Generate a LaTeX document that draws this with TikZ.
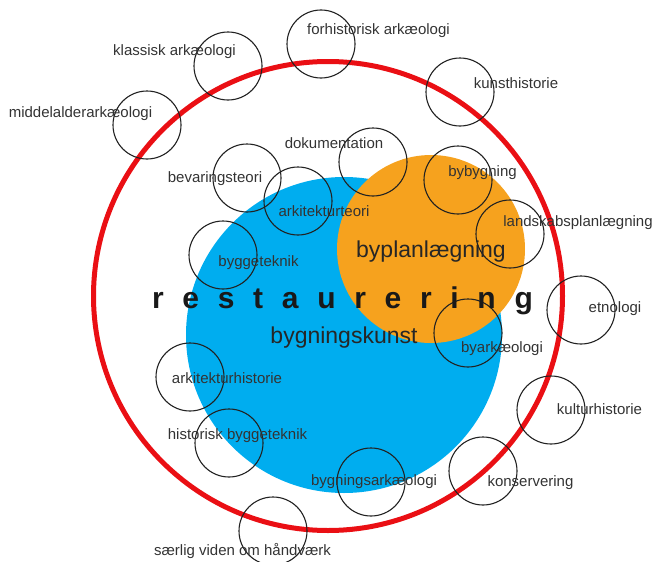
\documentclass[tikz,border=0pt]{standalone}
\usepackage{fontspec}
\setmainfont{Liberation Sans}
\definecolor{ringred}{HTML}{EA0F14}
\definecolor{bigblue}{HTML}{00ADEF}
\definecolor{bigorange}{HTML}{F6A21E}
\definecolor{txtgray}{HTML}{333333}
\definecolor{ringgray}{HTML}{222222}
\newcommand\lsp{\hspace{18.7pt}}
\tikzset{
  ring/.style={circle, draw=ringgray, line width=1.1pt, minimum size=68pt, inner sep=0pt},
  lbl/.style={anchor=mid, yshift=-3pt, inner sep=0pt, text=txtgray, font=\fontsize{15}{18}\selectfont},
  biglbl/.style={anchor=mid, yshift=-4pt, inner sep=0pt, text=black!85, font=\fontsize{23}{27}\selectfont},
}
\begin{document}
\begin{tikzpicture}[x=1pt,y=-1pt]
\useasboundingbox (0,0) rectangle (654,562);
% big fields
\node[circle, draw=ringred, line width=5pt, minimum size=469pt, inner sep=0pt] (outer) at (328,296) {};
\node[circle, fill=bigblue, minimum size=316pt, inner sep=0pt] (blue) at (344,335) {};
\node[circle, fill=bigorange, minimum size=188pt, inner sep=0pt] (orange) at (431,249) {};
% small circles
\node[ring] (c1) at (321,44) {};
\node[ring] (c2) at (228,66) {};
\node[ring] (c3) at (147,125) {};
\node[ring] (c4) at (460,92) {};
\node[ring] (c5) at (373,162) {};
\node[ring] (c6) at (458,180) {};
\node[ring] (c7) at (247,178) {};
\node[ring] (c8) at (298,201) {};
\node[ring] (c9) at (510,234) {};
\node[ring] (c10) at (223,255) {};
\node[ring] (c11) at (581,310) {};
\node[ring] (c12) at (468,333) {};
\node[ring] (c13) at (190,377) {};
\node[ring] (c14) at (229,443) {};
\node[ring] (c15) at (371,482) {};
\node[ring] (c16) at (273,531) {};
\node[ring] (c17) at (551,410) {};
\node[ring] (c18) at (483,471) {};
% labels
\node[lbl] (t1) at (378.5,29) {forhistorisk arkæologi};
\node[lbl] (t2) at (174.5,50) {klassisk arkæologi};
\node[lbl] (t3) at (80.5,112) {middelalderarkæologi};
\node[lbl] (t4) at (516,83) {kunsthistorie};
\node[lbl] (t5) at (334,143) {dokumentation};
\node[lbl] (t6) at (482.5,171) {bybygning};
\node[lbl] (t7) at (215,177) {bevaringsteori};
\node[lbl] (t8) at (324,211) {arkitekturteori};
\node[lbl] (t9) at (578,221) {landskabsplanlægning};
\node[lbl] (t10) at (258.5,261) {byggeteknik};
\node[lbl] (t11) at (615,307) {etnologi};
\node[lbl] (t12) at (502,347) {byarkæologi};
\node[lbl] (t13) at (227,378) {arkitekturhistorie};
\node[lbl] (t14) at (237.5,434) {historisk byggeteknik};
\node[lbl] (t15) at (374,480) {bygningsarkæologi};
\node[lbl] (t16) at (242.5,550) {særlig viden om håndværk};
\node[lbl] (t17) at (599.5,409) {kulturhistorie};
\node[lbl] (t18) at (530.5,481) {konservering};
\node[biglbl] (tb) at (431,251) {byplanlægning};
\node[biglbl] (tk) at (344,337) {bygningskunst};
\node[anchor=base, inner sep=0pt, text=black!90, font=\bfseries\fontsize{30}{36}\selectfont] (tr) at (342.5,308)
  {r\lsp e\lsp s\lsp t\lsp a\lsp u\lsp r\lsp e\lsp r\lsp i\lsp n\lsp g};
\end{tikzpicture}
\end{document}
